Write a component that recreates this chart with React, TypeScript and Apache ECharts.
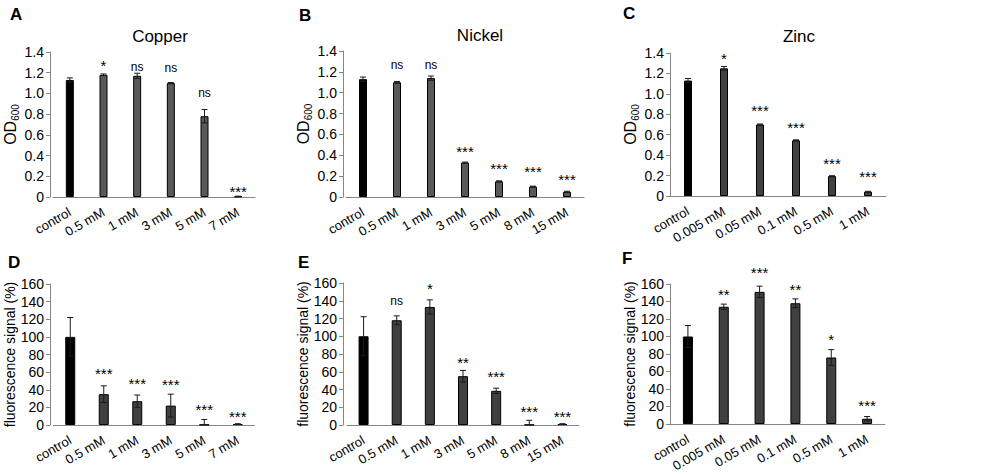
import React, { useEffect, useRef } from 'react';
import * as echarts from 'echarts';

// ---------- data ----------
const copperCats = ['control', '0.5 mM', '1 mM', '3 mM', '5 mM', '7 mM'];
const nickelCats = ['control', '0.5 mM', '1 mM', '3 mM', '5 mM', '8 mM', '15 mM'];
const zincCats = ['control', '0.005 mM', '0.05 mM', '0.1 mM', '0.5 mM', '1 mM'];

const odTicks = [0, 0.2, 0.4, 0.6, 0.8, 1.0, 1.2, 1.4];
const flTicks = [0, 20, 40, 60, 80, 100, 120, 140, 160];

const copperOD = [1.13, 1.18, 1.17, 1.10, 0.78, 0.005];
const copperODErr = [0.02, 0.008, 0.025, 0.005, 0.065, 0.003];
const copperODSig = ['', '*', 'ns', 'ns', 'ns', '***'];
const copperODSigY = [null, 1.27, 1.26, 1.25, 1.0, 0.055];

const nickelOD = [1.13, 1.10, 1.14, 0.33, 0.15, 0.10, 0.05];
const nickelODErr = [0.02, 0.008, 0.02, 0.005, 0.005, 0.004, 0.005];
const nickelODSig = ['', 'ns', 'ns', '***', '***', '***', '***'];
const nickelODSigY = [null, 1.265, 1.265, 0.44, 0.275, 0.245, 0.165];

const zincOD = [1.13, 1.25, 0.70, 0.545, 0.195, 0.042];
const zincODErr = [0.02, 0.018, 0.005, 0.005, 0.004, 0.004];
const zincODSig = ['', '*', '***', '***', '***', '***'];
const zincODSigY = [null, 1.35, 0.84, 0.67, 0.32, 0.19];

const copperFl = [100, 35, 27, 22, 0.3, 1];
const copperFlErr = [22, 9.5, 7, 13, 6, 0.5];
const copperFlSig = ['', '***', '***', '***', '***', '***'];
const copperFlSigY = [null, 58.6, 46.6, 45.6, 17.6, 10.2];

const nickelFl = [100, 118, 133, 55, 38.5, 0.3, 1];
const nickelFlErr = [22, 5, 8, 6.5, 3, 5, 0.5];
const nickelFlSig = ['', 'ns', '*', '**', '***', '***', '***'];
const nickelFlSigY = [null, 139.5, 153.6, 70.6, 54.6, 15.6, 10.1];

const zincFl = [100, 134, 151, 138, 76, 6];
const zincFlErr = [12.5, 3, 6.5, 5, 9, 2.5];
const zincFlSig = ['', '**', '***', '**', '*', '***'];
const zincFlSigY = [null, 148.2, 173.6, 153.6, 96.6, 20.6];

const titles = ['Copper', 'Nickel', 'Zinc'];
const letters = ['A', 'B', 'C', 'D', 'E', 'F'];
const odName = '{a|OD}{b|600}';
const flName = 'fluorescence signal (%)';

// ---------- layout / style ----------
const FONT = '"Liberation Sans", Arial, Helvetica, sans-serif';
const AXIS_GRAY = '#868686';

type Panel = {
  cats: string[]; vals: number[]; errs: number[]; sig: string[]; sigY: (number | null)[];
  ticks: number[]; color: string; barW: number;
  left: number; top: number; width: number; height: number; offset: number;
  od: boolean; nameGap: number;
};

const panels: Panel[] = [
  { cats: copperCats, vals: copperOD, errs: copperODErr, sig: copperODSig, sigY: copperODSigY, ticks: odTicks, color: '#595959', barW: 8, left: 53, top: 52, width: 202, height: 145, offset: 3, od: true, nameGap: 27 },
  { cats: nickelCats, vals: nickelOD, errs: nickelODErr, sig: nickelODSig, sigY: nickelODSigY, ticks: odTicks, color: '#595959', barW: 8, left: 346, top: 51, width: 238, height: 146, offset: 3, od: true, nameGap: 30 },
  { cats: zincCats, vals: zincOD, errs: zincODErr, sig: zincODSig, sigY: zincODSigY, ticks: odTicks, color: '#404040', barW: 8, left: 670, top: 53, width: 216, height: 143, offset: 0, od: true, nameGap: 29 },
  { cats: copperCats, vals: copperFl, errs: copperFlErr, sig: copperFlSig, sigY: copperFlSigY, ticks: flTicks, color: '#404040', barW: 10, left: 53.5, top: 284, width: 201, height: 141, offset: 3.5, od: false, nameGap: 29 },
  { cats: nickelCats, vals: nickelFl, errs: nickelFlErr, sig: nickelFlSig, sigY: nickelFlSigY, ticks: flTicks, color: '#404040', barW: 10, left: 347, top: 283, width: 232, height: 142, offset: 4, od: false, nameGap: 29 },
  { cats: zincCats, vals: zincFl, errs: zincFlErr, sig: zincFlSig, sigY: zincFlSigY, ticks: flTicks, color: '#404040', barW: 10, left: 670, top: 284, width: 215, height: 140, offset: 0, od: false, nameGap: 33 },
];

const titlePos = [
  { x: 155, y: 23 },
  { x: 475, y: 22 },
  { x: 794, y: 23 },
];
const letterPos = [
  { x: 10, y: 6 }, { x: 299, y: 7 }, { x: 623, y: 5 },
  { x: 8, y: 254 }, { x: 298, y: 254 }, { x: 622, y: 250 },
];

function buildOption() {
  const grid = panels.map((p) => ({ left: p.left, top: p.top, width: p.width, height: p.height, containLabel: false }));
  const xAxis = panels.map((p, i) => ({
    type: 'category', gridIndex: i, data: p.cats,
    axisLine: { show: true, lineStyle: { color: AXIS_GRAY, width: 1 } },
    axisTick: { show: false },
    axisLabel: {
      interval: 0, rotate: 30, fontSize: 13, color: '#000', fontFamily: FONT,
      margin: 14,
    },
  }));
  const yAxis = panels.map((p, i) => ({
    type: 'value', gridIndex: i, min: p.ticks[0], max: p.ticks[p.ticks.length - 1],
    interval: p.ticks[1] - p.ticks[0], offset: p.offset,
    axisLine: { show: true, lineStyle: { color: AXIS_GRAY, width: 1 } },
    axisTick: { show: true, length: 4, lineStyle: { color: AXIS_GRAY } },
    splitLine: { show: false },
    axisLabel: {
      fontSize: 14, color: '#000', fontFamily: FONT, margin: 6,
      formatter: (v: number) => (p.od ? (v === 0 ? '0' : v.toFixed(1)) : String(Math.round(v))),
    },
    name: p.od ? odName : flName,
    nameLocation: 'middle', nameGap: p.nameGap, nameRotate: 90,
    nameTextStyle: p.od
      ? {
          color: '#000', fontFamily: FONT,
          rich: {
            a: { fontSize: 16, fontFamily: FONT, color: '#000', lineHeight: 20 },
            b: { fontSize: 10, fontFamily: FONT, color: '#000', lineHeight: 20, verticalAlign: 'bottom' },
          },
        }
      : { fontSize: 14, color: '#000', fontFamily: FONT },
  }));

  const series: any[] = [];
  panels.forEach((p, i) => {
    series.push({
      type: 'bar', xAxisIndex: i, yAxisIndex: i, barWidth: p.barW,
      itemStyle: { borderColor: '#000', borderWidth: 1 },
      data: p.vals.map((v, j) => ({ value: v, itemStyle: { color: j === 0 ? '#000' : p.color } })),
      z: 2,
    });
    series.push({
      type: 'custom', xAxisIndex: i, yAxisIndex: i, clip: true, z: 3, silent: true,
      data: p.vals.map((v, j) => [j, v, p.errs[j]]),
      encode: { x: 0, y: 1 },
      renderItem: (params: any, api: any) => {
        const x = api.value(0);
        const v = api.value(1);
        const e = api.value(2);
        const hi = api.coord([x, v + e]);
        const lo = api.coord([x, v - e]);
        const half = 3;
        const st = { stroke: '#1a1a1a', lineWidth: 1 };
        return {
          type: 'group',
          children: [
            { type: 'line', shape: { x1: hi[0], y1: hi[1], x2: lo[0], y2: lo[1] }, style: st },
            { type: 'line', shape: { x1: hi[0] - half, y1: hi[1], x2: hi[0] + half, y2: hi[1] }, style: st },
            { type: 'line', shape: { x1: lo[0] - half, y1: lo[1], x2: lo[0] + half, y2: lo[1] }, style: st },
          ],
        };
      },
    });
    const sigIdx = p.sig.map((s, j) => j).filter((j) => p.sig[j] && p.sigY[j] != null);
    series.push({
      type: 'custom', xAxisIndex: i, yAxisIndex: i, clip: false, z: 4, silent: true,
      data: sigIdx.map((j) => [j, p.sigY[j]]),
      encode: { x: 0, y: 1 },
      renderItem: (params: any, api: any) => {
        const j = api.value(0);
        const pt = api.coord([j, api.value(1)]);
        const s = p.sig[j];
        return {
          type: 'text', x: pt[0], y: pt[1],
          style: {
            text: s, fill: '#000', fontFamily: FONT, fontSize: s === 'ns' ? 12 : 15,
            align: 'center', verticalAlign: 'middle',
          },
        };
      },
    });
  });

  const title = titles.map((t, i) => ({
    text: t, left: titlePos[i].x, top: titlePos[i].y, textAlign: 'center',
    textStyle: { fontSize: 17, fontWeight: 'normal', color: '#000', fontFamily: FONT },
  }));

  const graphic = letters.map((l, i) => ({
    type: 'text', left: letterPos[i].x, top: letterPos[i].y,
    style: { text: l, fontSize: 17, fontWeight: 'bold', fill: '#000', fontFamily: FONT },
  }));

  return { animation: false, backgroundColor: '#fff', title, grid, xAxis, yAxis, series, graphic };
}

export default function App() {
  const ref = useRef<HTMLDivElement>(null);
  useEffect(() => {
    if (!ref.current) return;
    const chart = echarts.init(ref.current, undefined, { renderer: 'svg' });
    chart.setOption(buildOption() as any);
    return () => chart.dispose();
  }, []);
  return <div ref={ref} style={{ position: 'absolute', left: 0, top: 0, width: 1000, height: 474 }} />;
}
